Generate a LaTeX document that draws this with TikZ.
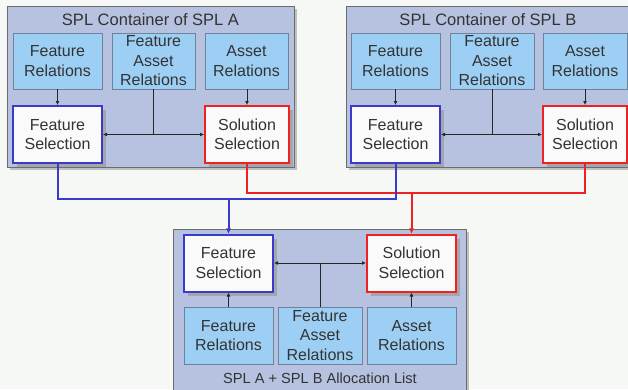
\documentclass[tikz,border=0pt]{standalone}
\usepackage{fontspec}
\setmainfont{Liberation Sans}
\usetikzlibrary{arrows.meta,shadows}
\definecolor{PageBg}{HTML}{F5F8F5}
\definecolor{BoxFill}{HTML}{B6C2DF}
\definecolor{RelFill}{HTML}{9DCFF5}
\definecolor{RelLine}{HTML}{6D8399}
\definecolor{SelBlue}{HTML}{3B3BCB}
\definecolor{SelRed}{HTML}{EE2222}
\definecolor{TextGray}{HTML}{333333}

\begin{document}
\begin{tikzpicture}[x=1pt,y=-1pt,
  font=\fontsize{16}{19.5}\selectfont,text=TextGray,
  container/.style={draw=gray!85!black,fill=BoxFill,line width=0.8pt,inner sep=0pt,
    drop shadow={shadow xshift=3pt,shadow yshift=-3pt,fill=gray!60,opacity=.8}},
  title/.style={font=\fontsize{16.5}{19.5}\selectfont},
  relbox/.style={draw=RelLine,fill=RelFill,line width=0.8pt,align=center,inner sep=0pt,minimum height=56pt},
  selbox/.style={fill=white!96!gray,line width=2pt,align=center,inner sep=0pt,minimum height=57pt,
    drop shadow={shadow xshift=4pt,shadow yshift=-4pt,fill=gray!75,opacity=.8}},
  link/.style={draw=gray!30!black,line width=0.8pt,-{Latex[length=4pt,width=4pt]}},
  blueline/.style={draw=SelBlue,line width=2pt,-{Latex[length=5pt,width=5pt]}},
  redline/.style={draw=SelRed,line width=2pt,-{Latex[length=5pt,width=5pt]}}]
\fill[PageBg] (0,0) rectangle (628,389);
\useasboundingbox (0,0) rectangle (628,389);
\clip (0,0) rectangle (628,389);

% SPL A
\node[container,minimum width=287pt,minimum height=161pt] (contA) at (150.5,86.5) {};
\node[title] (titleA) at (150.5,20) {SPL Container of SPL A};
\node[relbox,minimum width=89pt] (FRa) at (57.5,61) {Feature\\Relations};
\node[relbox,minimum width=83pt] (FARa) at (153.5,61) {Feature\\Asset\\Relations};
\node[relbox,minimum width=83pt] (ARa) at (246.5,61) {Asset\\Relations};
\node[selbox,draw=SelBlue,minimum width=89pt] (FSa) at (57.5,134.5) {Feature\\Selection};
\node[selbox,draw=SelRed,minimum width=84pt] (SSa) at (247,134.5) {Solution\\Selection};
\draw[link] (FRa) -- (FSa);
\draw[link] (ARa.south -| SSa.north) -- (SSa.north);
\draw[draw=gray!30!black,line width=0.8pt] (FARa.south) -- (FARa.south |- FSa.east) coordinate (ja);
\draw[link] (ja) -- (FSa.east);
\draw[link] (ja) -- (SSa.west);

% SPL B
\node[container,minimum width=290pt,minimum height=161pt] (contB) at (491,86.5) {};
\node[title] (titleB) at (488,20) {SPL Container of SPL B};
\node[relbox,minimum width=89pt] (FRb) at (395.5,61) {Feature\\Relations};
\node[relbox,minimum width=84pt] (FARb) at (492,61) {Feature\\Asset\\Relations};
\node[relbox,minimum width=84pt] (ARb) at (585,61) {Asset\\Relations};
\node[selbox,draw=SelBlue,minimum width=89pt] (FSb) at (395.5,134.5) {Feature\\Selection};
\node[selbox,draw=SelRed,minimum width=84pt] (SSb) at (585,134.5) {Solution\\Selection};
\draw[link] (FRb) -- (FSb);
\draw[link] (ARb) -- (SSb);
\draw[draw=gray!30!black,line width=0.8pt] (FARb.south) -- (FARb.south |- FSb.east) coordinate (jb);
\draw[link] (jb) -- (FSb.east);
\draw[link] (jb) -- (SSb.west);

% allocation list
\node[container,minimum width=293pt,minimum height=175pt] (contC) at (319.5,316.5) {};
\node[font=\fontsize{14.6}{19.5}\selectfont] (titleC) at (320,378) {SPL A + SPL B Allocation List};
\node[selbox,draw=SelBlue,minimum width=89pt] (FSc) at (228.5,263) {Feature\\Selection};
\node[selbox,draw=SelRed,minimum width=89pt] (SSc) at (411.5,263) {Solution\\Selection};
\node[relbox,minimum width=89pt,minimum height=57pt] (FRc) at (228.5,335.5) {Feature\\Relations};
\node[relbox,minimum width=84pt,minimum height=57pt] (FARc) at (320,335.5) {Feature\\Asset\\Relations};
\node[relbox,minimum width=89pt,minimum height=57pt] (ARc) at (411.5,335.5) {Asset\\Relations};
\draw[link] (FRc) -- (FSc);
\draw[link] (ARc) -- (SSc);
\draw[draw=gray!30!black,line width=0.8pt] (FARc.north) -- (FARc.north |- FSc.east) coordinate (jc);
\draw[link] (jc) -- (FSc.east);
\draw[link] (jc) -- (SSc.west);

% merge lines
\draw[redline] (SSa.south) -- ++(0,29) -| (SSc.north);
\draw[redline] (SSb.south) -- ++(0,29) -| (SSc.north);
\draw[blueline] (FSa.south) -- ++(0,35) -| (FSc.north);
\draw[blueline] (FSb.south) -- ++(0,35) -| (FSc.north);
\end{tikzpicture}
\end{document}
